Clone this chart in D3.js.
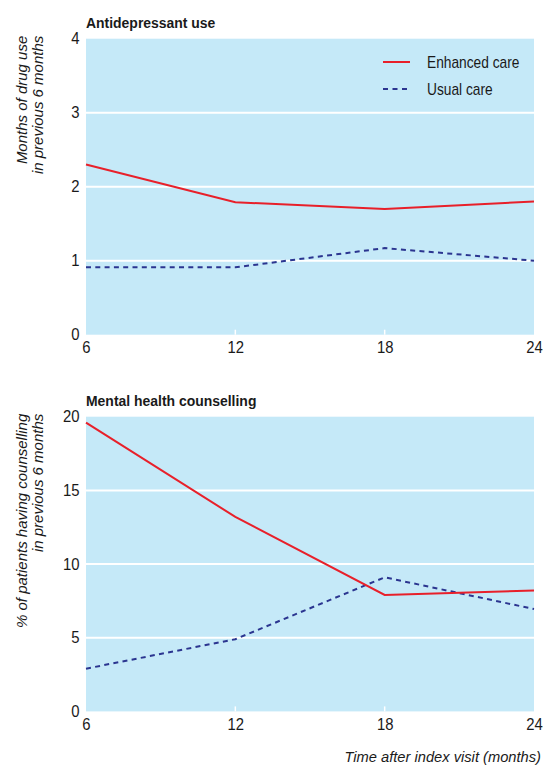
<!DOCTYPE html>
<html>
<head>
<meta charset="utf-8">
<script src="https://cdn.jsdelivr.net/npm/d3@7"></script>
<style>
  html, body { margin: 0; padding: 0; background: #ffffff; }
  svg { display: block; }
  text { font-family: "Liberation Sans", Arial, sans-serif; fill: #1a1a1a; }
</style>
</head>
<body>
<svg id="chart" width="543" height="765"></svg>
<script>
// Follow-up times (months after index visit)
const months = [6, 12, 18, 24];
const xTicks = [6, 12, 18, 24];

// Antidepressant use: months of drug use in previous 6 months
const drugEnhanced = [2.30, 1.79, 1.70, 1.80];
const drugUsual = [0.91, 0.91, 1.17, 1.00];
const drugTicks = [0, 1, 2, 3, 4];

// Mental health counselling: % of patients in previous 6 months
const counselEnhanced = [19.6, 13.2, 7.9, 8.2];
const counselUsual = [2.9, 4.9, 9.1, 6.95];
const counselTicks = [0, 5, 10, 15, 20];

const seriesNames = ["Enhanced care", "Usual care"];

const RED = "#e8202a";
const BLUE = "#2b3590";
const BG = "#c5e9f8";
// horizontal squeeze that gives the upright labels a condensed look
const NARROW = 0.9;
const TICK_NARROW = 0.93;

const svg = d3.select("#chart");

const x = d3.scaleLinear().domain([6, 24]).range([86, 534]);

function panel(opts) {
  const y = d3.scaleLinear().domain([0, opts.max]).range([opts.bottom, opts.top]);
  const g = svg.append("g");

  // plot background
  g.append("rect")
    .attr("x", x.range()[0]).attr("y", opts.top)
    .attr("width", x.range()[1] - x.range()[0])
    .attr("height", opts.bottom - opts.top)
    .attr("fill", BG);

  // horizontal white grid lines
  g.append("g").selectAll("line")
    .data(opts.ticks.filter(t => t > 0 && t < opts.max))
    .join("line")
    .attr("x1", x.range()[0]).attr("x2", x.range()[1])
    .attr("y1", d => y(d)).attr("y2", d => y(d))
    .attr("stroke", "#ffffff").attr("stroke-width", 2);

  // small white ticks at the interior x positions
  g.append("g").selectAll("line")
    .data(xTicks.slice(1, -1))
    .join("line")
    .attr("x1", d => x(d)).attr("x2", d => x(d))
    .attr("y1", opts.bottom).attr("y2", opts.bottom - 5)
    .attr("stroke", "#ffffff").attr("stroke-width", 1.5);

  // y axis labels
  const yAxis = d3.axisLeft(y).tickValues(opts.ticks).tickFormat(d3.format("d"))
    .tickSize(0).tickPadding(7);
  const ya = g.append("g").attr("transform", `translate(${x.range()[0]},0)`).call(yAxis);
  ya.select(".domain").remove();
  ya.selectAll("text")
    .style("font-family", "\"Liberation Sans\", Arial, sans-serif")
    .style("font-size", "16px").attr("fill", "#1a1a1a")
    .attr("transform", `scale(${TICK_NARROW},1)`);

  // x axis labels
  const xAxis = d3.axisBottom(x).tickValues(xTicks).tickFormat(d3.format("d"))
    .tickSize(0).tickPadding(7);
  const xa = g.append("g").attr("transform", `translate(0,${opts.bottom})`).call(xAxis);
  xa.select(".domain").remove();
  xa.selectAll("text")
    .style("font-family", "\"Liberation Sans\", Arial, sans-serif")
    .style("font-size", "16px").attr("fill", "#1a1a1a")
    .attr("transform", `scale(${TICK_NARROW},1)`);

  // title
  g.append("text")
    .attr("transform", `translate(86,${opts.top - 11}) scale(${NARROW},1)`)
    .style("font-size", "15.5px").style("font-weight", "bold")
    .text(opts.title);

  // rotated y-axis title (two lines, ending at plot top)
  opts.yTitle.forEach((line, i) => {
    g.append("text")
      .attr("transform", `translate(${opts.yTitleX[i]},${opts.top - 3}) rotate(-90)`)
      .attr("text-anchor", "end")
      .style("font-size", "15px").style("font-style", "italic")
      .text(line);
  });

  const line = d3.line().x((d, i) => x(months[i])).y(d => y(d));

  g.append("path").datum(opts.usual)
    .attr("d", line).attr("fill", "none")
    .attr("stroke", BLUE).attr("stroke-width", 2)
    .attr("stroke-dasharray", "5,4.3");

  g.append("path").datum(opts.enhanced)
    .attr("d", line).attr("fill", "none")
    .attr("stroke", RED).attr("stroke-width", 2);

  return g;
}

panel({
  top: 38.7, bottom: 334.7, max: 4, ticks: drugTicks,
  title: "Antidepressant use",
  yTitle: ["Months of drug use", "in previous 6 months"],
  yTitleX: [27, 43],
  enhanced: drugEnhanced, usual: drugUsual
});

panel({
  top: 416.7, bottom: 711.4, max: 20, ticks: counselTicks,
  title: "Mental health counselling",
  yTitle: ["% of patients having counselling", "in previous 6 months"],
  yTitleX: [27, 43],
  enhanced: counselEnhanced, usual: counselUsual
});

// legend
const legend = svg.append("g");
const legendItems = [
  { name: seriesNames[0], color: RED, dash: null, y: 62 },
  { name: seriesNames[1], color: BLUE, dash: "5,4.5", y: 89 }
];
legendItems.forEach(it => {
  legend.append("line")
    .attr("x1", 383).attr("x2", 410).attr("y1", it.y).attr("y2", it.y)
    .attr("stroke", it.color).attr("stroke-width", 2)
    .attr("stroke-dasharray", it.dash);
  legend.append("text")
    .attr("transform", `translate(427,${it.y + 6}) scale(0.86,1)`)
    .style("font-size", "16px")
    .text(it.name);
});

// x-axis title
svg.append("text")
  .attr("x", 541).attr("y", 762)
  .attr("text-anchor", "end")
  .style("font-size", "14.7px").style("font-style", "italic")
  .text("Time after index visit (months)");
</script>
</body>
</html>
